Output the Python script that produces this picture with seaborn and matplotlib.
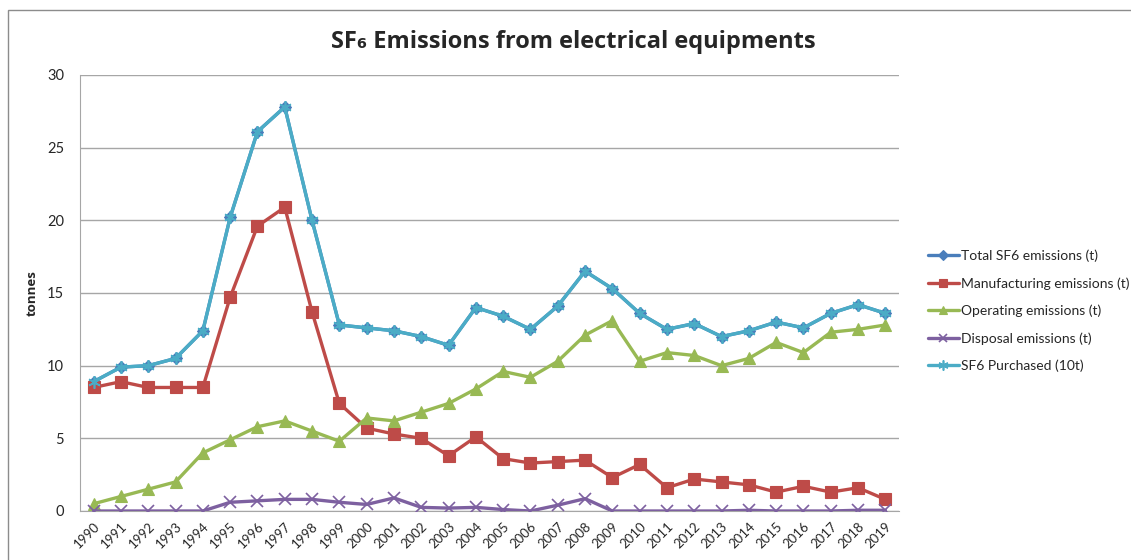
import pandas as pd
import seaborn as sns
import matplotlib.pyplot as plt
from matplotlib.patches import Rectangle

# data
years = list(range(1990, 2020))
total = [8.9, 9.9, 10.0, 10.5, 12.4, 20.2, 26.1, 27.8, 20.0, 12.8,
         12.6, 12.4, 12.0, 11.4, 14.0, 13.4, 12.5, 14.1, 16.5, 15.3,
         13.6, 12.5, 12.9, 12.0, 12.4, 13.0, 12.6, 13.6, 14.2, 13.6]
manufacturing = [8.5, 8.9, 8.5, 8.5, 8.5, 14.7, 19.6, 20.9, 13.7, 7.4,
                 5.7, 5.3, 5.0, 3.8, 5.1, 3.6, 3.3, 3.4, 3.5, 2.3,
                 3.2, 1.6, 2.2, 2.0, 1.8, 1.3, 1.7, 1.3, 1.6, 0.8]
operating = [0.5, 1.0, 1.5, 2.0, 4.0, 4.9, 5.8, 6.2, 5.5, 4.8,
             6.4, 6.2, 6.8, 7.4, 8.4, 9.6, 9.2, 10.3, 12.1, 13.1,
             10.3, 10.9, 10.7, 10.0, 10.5, 11.6, 10.9, 12.3, 12.5, 12.8]
disposal = [0.0, 0.0, 0.0, 0.0, 0.0, 0.6, 0.7, 0.8, 0.8, 0.6,
            0.45, 0.9, 0.25, 0.2, 0.25, 0.1, 0.0, 0.4, 0.85, 0.0,
            0.0, 0.0, 0.0, 0.0, 0.05, 0.0, 0.0, 0.0, 0.05, 0.05]
purchased = [8.9, 9.9, 10.0, 10.5, 12.4, 20.2, 26.1, 27.8, 20.0, 12.8,
             12.6, 12.4, 12.0, 11.4, 14.0, 13.4, 12.5, 14.1, 16.5, 15.3,
             13.6, 12.5, 12.9, 12.0, 12.4, 13.0, 12.6, 13.6, 14.2, 13.6]

series_names = ["Total SF6 emissions (t)", "Manufacturing emissions (t)",
                "Operating emissions (t)", "Disposal emissions (t)",
                "SF6 Purchased (10t)"]

df = pd.DataFrame({"year": years, series_names[0]: total,
                   series_names[1]: manufacturing, series_names[2]: operating,
                   series_names[3]: disposal, series_names[4]: purchased})
long = df.melt(id_vars="year", var_name="series", value_name="value")

colors = ["#4A7EBB", "#BE4B48", "#98B954", "#7D60A0", "#4BACC6"]
markers = ["D", "s", "^", "x", (6, 2, 0)]
msizes = [6, 8, 8, 8, 9]

sns.set_style("white")
plt.rcParams['font.family'] = ['Lato', 'DejaVu Sans']

fig = plt.figure(figsize=(11.31, 5.6), dpi=100)
ax = fig.add_axes([80 / 1131, 1 - 511 / 560, (899 - 80) / 1131, (511 - 75) / 560])

for name, c, m, ms in zip(series_names, colors, markers, msizes):
    sub = long[long["series"] == name]
    sns.lineplot(data=sub, x="year", y="value", ax=ax, color=c, lw=2.4,
                 marker=m, markersize=ms, markeredgecolor=c,
                 markeredgewidth=1.2 if m in ("x",) or isinstance(m, tuple) else 0.8,
                 label=name, legend=False, zorder=3)

ax.set_xlim(1989.5, 2019.5)
ax.set_ylim(0, 30)
ax.set_yticks([0, 5, 10, 15, 20, 25, 30])
ax.set_xticks(years)
ax.set_xticklabels([str(y) for y in years], rotation=45, ha="right",
                   rotation_mode="anchor", fontsize=9.5)
ax.tick_params(axis="y", labelsize=10.5, pad=8)
ax.tick_params(axis="x", pad=3)
ax.yaxis.grid(True, color="#A6A6A6", lw=1)
ax.set_axisbelow(True)
for s in ["top", "right"]:
    ax.spines[s].set_visible(False)
ax.spines["left"].set_color("#A6A6A6")
ax.spines["bottom"].set_color("#A6A6A6")
ax.set_xlabel("")
ax.set_ylabel("tonnes", fontsize=9.5, fontweight="bold", labelpad=6,
              family=["Open Sans", "DejaVu Sans"])

fig.text(0.507, 1 - 42 / 560, "SF\u2086 Emissions from electrical equipments",
         ha="center", va="center", fontsize=17, fontweight="bold",
         family=["Open Sans", "DejaVu Sans"])

handles, labels = ax.get_legend_handles_labels()
fig.legend(handles, labels, loc="upper left",
           bbox_to_anchor=(915 / 1131, 1 - 237 / 560), frameon=False,
           fontsize=10, handlelength=2.3, handletextpad=0.1,
           labelspacing=1.08, markerscale=0.8)

fig.patches.append(Rectangle((8 / 1131, -0.1), 1.2, 1 - 10 / 560 + 0.1,
                             transform=fig.transFigure, fill=False,
                             edgecolor="#8C8C8C", lw=1))

fig.savefig("out.png", dpi=100)
